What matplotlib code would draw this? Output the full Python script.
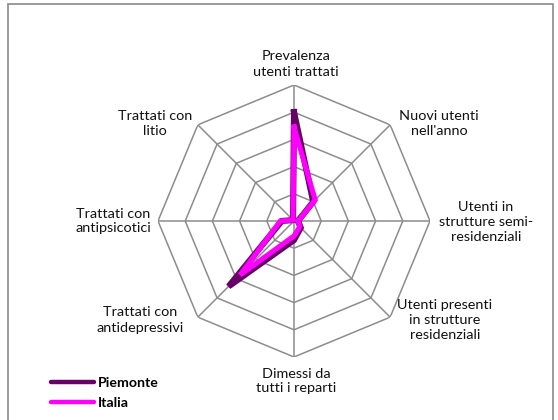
import numpy as np
import matplotlib.pyplot as plt
from matplotlib.patches import Rectangle
from matplotlib.lines import Line2D

plt.rcParams['font.family'] = ['Lato', 'DejaVu Sans']

# dati (scala 0-100)
categorie = ["Prevalenza\nutenti trattati", "Nuovi utenti\nnell'anno",
             "Utenti in\nstrutture semi-\nresidenziali",
             "Utenti presenti\nin strutture\nresidenziali",
             "Dimessi da\ntutti i reparti", "Trattati con\nantidepressivi",
             "Trattati con\nantipsicotici", "Trattati con\nlitio"]
piemonte = [80, 20, 3, 7, 14, 68, 9, 1]
italia = [69, 22, 3, 6, 11, 56, 10, 1]
anelli = [20, 40, 60, 80, 100]

W, H = 558, 420
fig = plt.figure(figsize=(W / 100, H / 100), dpi=100)

# cornice
fig.patches.append(Rectangle((8 / W, -0.02), 545 / W, 1 - 4 / H + 0.02,
                             transform=fig.transFigure, fill=False,
                             edgecolor='#8a8a8a', lw=1.2))

cx, cy, R = 294, 221, 136
ax = fig.add_axes([(cx - R) / W, (H - cy - R) / H, 2 * R / W, 2 * R / H],
                  projection='polar')
ax.set_theta_offset(np.pi / 2)
ax.set_theta_direction(-1)
ax.set_ylim(0, 100)
ax.grid(False)
ax.set_xticks([])
ax.set_yticks([])
ax.spines['polar'].set_visible(False)
ax.patch.set_alpha(0)

n = len(categorie)
theta = np.arange(n) * 2 * np.pi / n
theta_c = np.append(theta, theta[0])

# griglia ottagonale
for r in anelli:
    ax.plot(theta_c, [r] * (n + 1), color='#8c8c8c', lw=1.1, zorder=1)
for t in theta:
    ax.plot([t, t], [0, anelli[-1]], color='#8c8c8c', lw=1.1, zorder=1)

ax.plot(theta_c, piemonte + piemonte[:1], color='#660066', lw=4.4,
        solid_joinstyle='miter', zorder=3)
ax.plot(theta_c, italia + italia[:1], color='#ff00ff', lw=3.7,
        solid_joinstyle='miter', zorder=4)

# etichette
pos = [(296, 64), (439, 123), (486, 222), (445, 320),
       (296, 381), (140, 320), (113, 221), (155, 123)]
for lab, (x, y) in zip(categorie, pos):
    fig.text(x / W, 1 - y / H, lab, ha='center', va='center',
             fontsize=10.4, linespacing=1.3, color='#111111')

# legenda
handles = [Line2D([], [], color='#660066', lw=3.2, solid_capstyle='round'),
           Line2D([], [], color='#ff00ff', lw=3.2, solid_capstyle='round')]
fig.legend(handles, ['Piemonte', 'Italia'], loc='upper left',
           bbox_to_anchor=(44 / W, 1 - 370 / H), frameon=False,
           handlelength=3.0, handletextpad=0.3, labelspacing=0.55,
           prop={'weight': 'bold', 'size': 10.2}, borderpad=0)

fig.savefig('out.png', dpi=100)
